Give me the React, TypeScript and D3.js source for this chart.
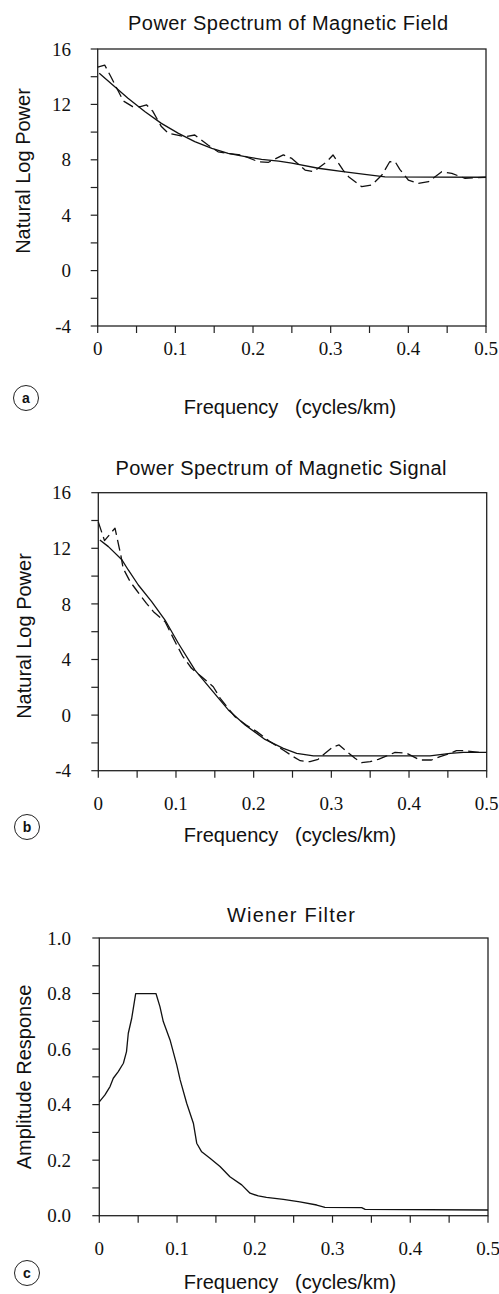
import React from 'react';
import * as d3 from 'd3';

// ---------- data ----------
const freqTicks = [0, 0.1, 0.2, 0.3, 0.4, 0.5];
const freqMinorTicks = [0.05, 0.15, 0.25, 0.35, 0.45];
const powerTicks = [16, 12, 8, 4, 0, -4];
const powerMinorTicks = [14, 10, 6, 2, -2];
const ampTicks = [1.0, 0.8, 0.6, 0.4, 0.2, 0.0];
const ampMinorTicks = [0.9, 0.7, 0.5, 0.3, 0.1];

// (a) Magnetic field spectrum
const fieldFitFreq = [0.002, 0.022, 0.039, 0.061, 0.082, 0.104, 0.125, 0.147, 0.168, 0.19, 0.211, 0.233, 0.25, 0.284, 0.316, 0.344, 0.37, 0.5];
const fieldFitPower = [14.25, 13.28, 12.44, 11.47, 10.63, 9.91, 9.31, 8.83, 8.47, 8.23, 8.03, 7.91, 7.76, 7.39, 7.14, 6.95, 6.76, 6.74];
const fieldRawFreq = [0.0, 0.009, 0.016, 0.033, 0.045, 0.055, 0.063, 0.071, 0.082, 0.091, 0.112, 0.125, 0.142, 0.155, 0.166, 0.185, 0.207, 0.22, 0.239, 0.25, 0.267, 0.278, 0.295, 0.303, 0.316, 0.323, 0.34, 0.353, 0.366, 0.376, 0.383, 0.389, 0.4, 0.413, 0.426, 0.443, 0.456, 0.473, 0.5];
const fieldRawPower = [14.7, 14.84, 14.1, 12.25, 11.84, 11.84, 11.96, 11.5, 10.4, 9.91, 9.67, 9.79, 9.07, 8.58, 8.47, 8.35, 7.86, 7.82, 8.35, 8.1, 7.26, 7.14, 7.86, 8.35, 7.26, 6.78, 6.06, 6.18, 6.9, 7.86, 7.86, 7.31, 6.54, 6.3, 6.42, 7.14, 7.02, 6.66, 6.74];

// (b) Magnetic signal spectrum
const signalFitFreq = [0.002, 0.013, 0.03, 0.0386, 0.0515, 0.0687, 0.0859, 0.103, 0.1245, 0.146, 0.1674, 0.189, 0.2146, 0.2382, 0.2554, 0.277, 0.427, 0.453, 0.47, 0.5];
const signalFitPower = [12.6, 12.12, 11.2, 10.44, 9.36, 8.16, 6.84, 5.17, 3.24, 1.8, 0.37, -0.71, -1.75, -2.39, -2.75, -2.94, -2.94, -2.75, -2.68, -2.68];
const signalRawFreq = [0.0, 0.008, 0.0215, 0.029, 0.032, 0.041, 0.049, 0.062, 0.071, 0.086, 0.101, 0.109, 0.12, 0.133, 0.148, 0.157, 0.176, 0.19, 0.204, 0.221, 0.238, 0.251, 0.26, 0.2725, 0.283, 0.292, 0.3026, 0.31, 0.32, 0.3305, 0.339, 0.35, 0.3605, 0.3713, 0.382, 0.397, 0.414, 0.429, 0.44, 0.453, 0.461, 0.47, 0.49];
const signalRawPower = [13.9, 12.55, 13.45, 11.5, 10.56, 9.6, 9.0, 8.04, 7.44, 6.72, 5.04, 4.2, 3.37, 2.76, 2.04, 1.2, -0.12, -0.7, -1.19, -1.91, -2.51, -2.99, -3.28, -3.35, -3.18, -2.75, -2.27, -2.15, -2.63, -3.11, -3.42, -3.35, -3.18, -2.94, -2.68, -2.75, -3.23, -3.23, -2.99, -2.75, -2.56, -2.56, -2.68];

// (c) Wiener filter
const filterFreq = [0, 0.0073, 0.0138, 0.018, 0.0244, 0.031, 0.035, 0.0373, 0.0417, 0.0468, 0.0729, 0.078, 0.0823, 0.091, 0.0996, 0.104, 0.1124, 0.121, 0.1253, 0.1317, 0.1424, 0.1553, 0.168, 0.1832, 0.1939, 0.2045, 0.215, 0.2367, 0.258, 0.2797, 0.2903, 0.3375, 0.342, 0.5];
const filterAmp = [0.41, 0.435, 0.465, 0.495, 0.519, 0.549, 0.591, 0.657, 0.711, 0.8, 0.8, 0.753, 0.699, 0.633, 0.543, 0.489, 0.405, 0.333, 0.261, 0.23, 0.207, 0.177, 0.14, 0.111, 0.081, 0.071, 0.066, 0.059, 0.05, 0.0385, 0.03, 0.029, 0.023, 0.0205];

// ---------- drawing ----------
const SANS = '"Liberation Sans", Arial, Helvetica, sans-serif';
const SERIF = '"Liberation Serif", "Times New Roman", serif';

type Series = { xs: number[]; ys: number[]; dashed?: boolean };

type PanelProps = {
  box: { l: number; r: number; t: number; b: number };
  yDomain: [number, number];
  yMajor: number[];
  yMinor: number[];
  yFmt: (v: number) => string;
  title: string;
  titleX: number;
  titleY: number;
  titleLen: number;
  yTitle: string;
  yTitleY: number;
  yTitleX: number;
  xLabelY: number;
  xTitleY: number;
  badge: string;
  badgeY: number;
  badgeX: number;
  series: Series[];
};

function Panel(p: PanelProps) {
  const x = d3.scaleLinear().domain([0, 0.5]).range([p.box.l, p.box.r]);
  const y = d3.scaleLinear().domain(p.yDomain).range([p.box.b, p.box.t]);
  const line = d3
    .line<[number, number]>()
    .x((d) => x(d[0]))
    .y((d) => y(d[1]))
    .curve(d3.curveLinear);
  const tk = 7;
  const xFmt = (v: number) => (v === 0 ? '0' : d3.format('.1f')(v));
  return (
    <g>
      <text x={p.titleX} y={p.titleY} textAnchor="middle" fontFamily={SANS} fontSize={20} textLength={p.titleLen} lengthAdjust="spacing" fill="#111">
        {p.title}
      </text>
      <rect x={p.box.l} y={p.box.t} width={p.box.r - p.box.l} height={p.box.b - p.box.t} fill="none" stroke="#222" strokeWidth={1.3} />
      {[...p.yMajor, ...p.yMinor].map((v, i) => (
        <line key={'yt' + i} x1={p.box.l - tk} x2={p.box.l} y1={y(v)} y2={y(v)} stroke="#222" strokeWidth={1.2} />
      ))}
      {p.yMajor.map((v, i) => (
        <text key={'yl' + i} x={71} y={y(v)} dy="0.35em" textAnchor="end" fontFamily={SERIF} fontSize={19} fill="#111">
          {p.yFmt(v)}
        </text>
      ))}
      {[...freqTicks, ...freqMinorTicks].map((v, i) => (
        <line key={'xt' + i} x1={x(v)} x2={x(v)} y1={p.box.b} y2={p.box.b + tk} stroke="#222" strokeWidth={1.2} />
      ))}
      {freqTicks.map((v, i) => (
        <text key={'xl' + i} x={x(v)} y={p.xLabelY} dy="0.35em" textAnchor="middle" fontFamily={SERIF} fontSize={19} fill="#111">
          {xFmt(v)}
        </text>
      ))}
      {p.series.map((s, i) => (
        <path
          key={'s' + i}
          d={line(s.xs.map((v, j) => [v, s.ys[j]] as [number, number])) || ''}
          fill="none"
          stroke="#111"
          strokeWidth={1.3}
          strokeDasharray={s.dashed ? '11,5' : undefined}
          strokeLinejoin="round"
        />
      ))}
      <text
        transform={`translate(${p.yTitleX},${p.yTitleY}) rotate(-90)`}
        textAnchor="middle"
        fontFamily={SANS}
        fontSize={20}
        fill="#111"
      >
        {p.yTitle}
      </text>
      <text x={290} y={p.xTitleY} textAnchor="middle" fontFamily={SANS} fontSize={20} fill="#111" style={{ whiteSpace: 'pre' }}>
        {'Frequency   (cycles/km)'}
      </text>
      <circle cx={p.badgeX} cy={p.badgeY} r={12.5} fill="none" stroke="#222" strokeWidth={1} />
      <text x={p.badgeX} y={p.badgeY} dy="0.35em" textAnchor="middle" fontFamily={SANS} fontWeight="bold" fontSize={14} fill="#111">
        {p.badge}
      </text>
    </g>
  );
}

export default function App() {
  const powerFmt = (v: number) => String(v);
  const ampFmt = (v: number) => d3.format('.1f')(v);
  return (
    <svg width={499} height={1294} style={{ position: 'absolute', left: 0, top: 0, background: '#fff', display: 'block' }}>
      <rect x={0} y={0} width={499} height={1294} fill="#fff" />
      <Panel
        box={{ l: 97.7, r: 486, t: 49, b: 326 }}
        yDomain={[-4, 16]}
        yMajor={powerTicks}
        yMinor={powerMinorTicks}
        yFmt={powerFmt}
        title="Power Spectrum of Magnetic Field"
        titleX={288}
        titleY={30}
        titleLen={320}
        yTitle="Natural Log Power"
        yTitleX={30}
        yTitleY={171}
        xLabelY={348}
        xTitleY={414}
        badge="a"
        badgeX={26}
        badgeY={398}
        series={[
          { xs: fieldFitFreq, ys: fieldFitPower },
          { xs: fieldRawFreq, ys: fieldRawPower, dashed: true },
        ]}
      />
      <Panel
        box={{ l: 98.3, r: 486.7, t: 492.7, b: 770.7 }}
        yDomain={[-4, 16]}
        yMajor={powerTicks}
        yMinor={powerMinorTicks}
        yFmt={powerFmt}
        title="Power Spectrum of Magnetic Signal"
        titleX={281}
        titleY={475}
        titleLen={331}
        yTitle="Natural Log Power"
        yTitleX={31}
        yTitleY={636}
        xLabelY={803}
        xTitleY={842}
        badge="b"
        badgeX={27}
        badgeY={827}
        series={[
          { xs: signalFitFreq, ys: signalFitPower },
          { xs: signalRawFreq, ys: signalRawPower, dashed: true },
        ]}
      />
      <Panel
        box={{ l: 99.3, r: 488, t: 938, b: 1215.7 }}
        yDomain={[0, 1]}
        yMajor={ampTicks}
        yMinor={ampMinorTicks}
        yFmt={ampFmt}
        title={'Wiener   Filter'}
        titleX={291}
        titleY={922}
        titleLen={128}
        yTitle="Amplitude Response"
        yTitleX={31}
        yTitleY={1077}
        xLabelY={1248}
        xTitleY={1289}
        badge="c"
        badgeX={27}
        badgeY={1273}
        series={[{ xs: filterFreq, ys: filterAmp }]}
      />
    </svg>
  );
}
